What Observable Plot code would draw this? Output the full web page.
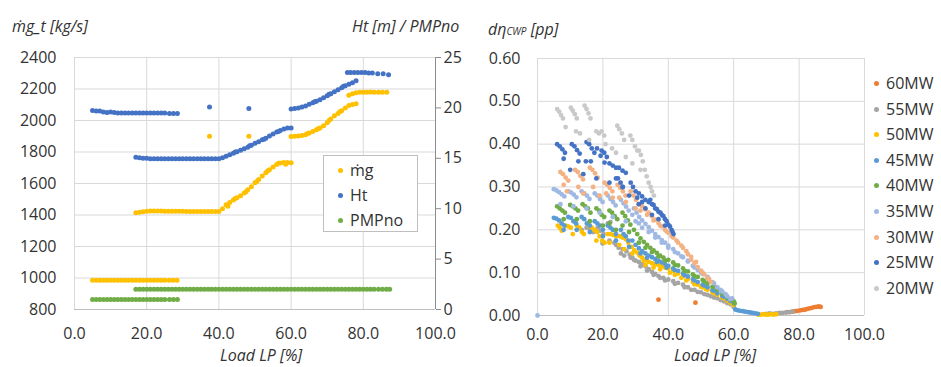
<!DOCTYPE html>
<html><head><meta charset="utf-8">
<script src="https://cdn.jsdelivr.net/npm/d3@7"></script>
<script src="https://cdn.jsdelivr.net/npm/@observablehq/plot@0.6"></script>
<style>
body{margin:0;background:#fff;font-family:"Open Sans",sans-serif;}
#wrap{position:relative;width:941px;height:367px;overflow:hidden;background:#fff;}
#wrap svg{position:absolute;top:0;}
.t{position:absolute;font-style:italic;font-size:16px;color:#333;white-space:nowrap;line-height:18px;}
.tx{position:absolute;font-style:italic;font-size:16px;color:#333;white-space:nowrap;line-height:17px;}
.lg{position:absolute;font-size:16px;color:#333;white-space:nowrap;line-height:20px;}
.mk{position:absolute;width:5px;height:5px;border-radius:50%;}
#lbox{position:absolute;left:323px;top:155px;width:93px;height:75px;border:1px solid #bfbfbf;background:#fff;}
[aria-label="y-axis tick"]{stroke:#8c8c8c;}
</style></head><body><div id="wrap"></div>
<script>
// ---------- tick values ----------
const loadTicks = [0, 20, 40, 60, 80, 100];
const mgTicks = [800, 1000, 1200, 1400, 1600, 1800, 2000, 2200, 2400];
const htTicks = [0, 5, 10, 15, 20, 25];
const etaTicks = [0, 0.1, 0.2, 0.3, 0.4, 0.5, 0.6];

// ---------- left chart: mass flow  [load %, kg/s] ----------
const mgFlow = [
 [5,986],[6,986],[7,985],[8,985],[9,985],[10,985],[11,985],[12,985],[13,985],[14,985],[15,985],[16,985],[17,985],[18,985],[19,985],[20,985],[21,985],[22,985],[23,985],[24,985],[25,985],[26.2,985],[27.3,985],[28.4,985],
 [17,1415],[18,1418],[19,1420],[20,1424],[21,1425],[22,1425],[23,1425],[24,1425],[25,1424],[26,1424],[27,1424],[28,1424],[29,1424],[30,1424],[31,1423],[32,1423],[33,1423],[34,1423],[35,1423],[36,1423],[37,1422],[38,1422],[39,1422],[40,1422],
 [41,1440],[42,1465],[43,1480],[44,1495],[45,1510],[46,1522],[47,1540],[48,1560],[49,1580],[50,1605],[51,1625],[52,1648],[53,1668],[54,1688],[55,1705],[56,1720],[57,1730],[58,1733],[59,1733],[60,1732],
 [42.5,1455],[44.5,1505],[47.5,1548],[50.5,1612],[53.5,1680],[56.5,1728],[58.5,1722],
 [37.4,1900],[48.3,1900],
 [60,1898],[61,1900],[62,1902],[63,1905],[64,1910],[65,1920],[66,1930],[67,1942],[68,1952],[69,1966],[70,1985],[71,2010],[72,2030],[73,2045],[74,2062],[75,2080],[76,2095],[77,2102],[78,2106],
 [64.5,1918],[67.5,1948],[70.5,2000],[73.5,2055],
 [76,2160],[77,2170],[78,2176],[79,2180],[80,2180],[81,2180],[82,2181],[83,2180],[84.2,2180],[85.3,2180],[86.5,2180]
];
// ---------- left chart: head  [load %, m] ----------
const headHt = [
 [5,19.75],[6,19.7],[7,19.7],[8,19.6],[9,19.55],[10,19.6],[11,19.55],[12,19.5],[13,19.5],[14,19.5],[15,19.5],[16,19.5],[17,19.5],[18,19.5],[19,19.5],[20,19.5],[21,19.5],[22,19.5],[23,19.5],[24,19.5],[25,19.5],[26.3,19.45],[27.4,19.45],[28.5,19.45],
 [37.4,20.1],[48.3,19.95],
 [17,15.1],[18,15.05],[19,15],[20,15],[21,14.95],[22,14.95],[23,14.95],[24,14.95],[25,14.95],[26,14.95],[27,14.95],[28,14.95],[29,14.95],[30,14.95],[31,14.95],[32,14.95],[33,14.95],[34,14.95],[35,14.95],[36,14.95],[37,14.95],[38,14.95],[39,14.95],[40,14.95],
 [41,15.05],[42,15.2],[43,15.35],[44,15.5],[45,15.65],[46,15.8],[47,15.95],[48,16.1],[49,16.3],[50,16.5],[51,16.65],[52,16.85],[53,17],[54,17.2],[55,17.4],[56,17.6],[57,17.75],[58,17.9],[59,18],[60,18],
 [44.5,15.62],[48.5,16.25],[52.5,16.9],[56.5,17.65],
 [60,19.9],[61,19.95],[62,20],[63,20.1],[64,20.2],[65,20.35],[66,20.5],[67,20.65],[68,20.8],[69,21],[70,21.2],[71,21.4],[72,21.6],[73,21.8],[74,22],[75,22.2],[76,22.35],[77,22.5],[78,22.7],
 [66.5,20.6],[70.5,21.35],[74.5,22.15],
 [75.6,23.5],[76.5,23.5],[77.5,23.5],[78.5,23.5],[79.5,23.5],[80.5,23.5],[81.5,23.45],[82.5,23.45],[84,23.4],[85.5,23.4],[87,23.3]
];
// ---------- left chart: number of pumps  [load %, no] ----------
const pmpNo = [
 [5,1],[6,1],[7,1],[8,1],[9,1],[10,1],[11,1],[12,1],[13,1],[14,1],[15,1],[16,1],[17,1],[18,1],[19,1],[20,1],[21,1],[22,1],[23,1],[24,1],[25,1],[26.3,1],[27.4,1],[28.5,1],
 [17,2],[18,2],[19,2],[20,2],[21,2],[22,2],[23,2],[24,2],[25,2],[26,2],[27,2],[28,2],[29,2],[30,2],[31,2],[32,2],[33,2],[34,2],[35,2],[36,2],[37,2],[38,2],[39,2],[40,2],
 [41,2],[42,2],[43,2],[44,2],[45,2],[46,2],[47,2],[48,2],[49,2],[50,2],[51,2],[52,2],[53,2],[54,2],[55,2],[56,2],[57,2],[58,2],[59,2],[60,2],
 [61,2],[62,2],[63,2],[64,2],[65,2],[66,2],[67,2],[68,2],[69,2],[70,2],[71,2],[72,2],[73,2],[74,2],[75,2],[76,2],[77,2],[78,2],[79,2],[80,2],[81,2],[82,2],[83,2],[84.2,2],[85.3,2],[86.4,2],[87.3,2]
];

// ---------- right chart: d eta CWP [load %, pp] per series ----------
const mwNames = ["60MW","55MW","50MW","45MW","40MW","35MW","30MW","25MW","20MW"];
const mwColors = ["#ED7D31","#A5A5A5","#FFC000","#5B9BD5","#70AD47","#A0B9E4","#F4B183","#4472C4","#C9C9C9"];

const mw60 = [[37,0.037],[48.3,0.03],[76.4,0.008],[77.2,0.008],[78,0.009],[78.8,0.01],[79.6,0.011],[80.4,0.012],[81.2,0.013],[82,0.014],[82.8,0.016],[83.6,0.017],[84.4,0.019],[85.2,0.02],[86,0.021],[86.6,0.02]];
const mw55 = [[13.5,0.2],[15,0.205],[15.7,0.206],[16.2,0.2],[17,0.195],[18.4,0.205],[19.2,0.198],[19.9,0.168],[20.2,0.19],[21.5,0.215],[22.3,0.218],[22,0.175],[23,0.2],[24,0.165],[24.8,0.158],[25.5,0.145],[26,0.155],[27.2,0.15],[28.2,0.142],[28.5,0.135],[29,0.135],[30,0.128],[31,0.125],[32,0.12],[33,0.115],[34,0.108],[35,0.102],[36,0.097],[37,0.092],[38.5,0.088],[40,0.084],[41.5,0.08],[43,0.076],[44.5,0.072],[46,0.066],[48,0.06],[50,0.054],[52,0.048],[54,0.042],[56,0.036],[58,0.029],[60,0.02],
 [31.5,0.115],[33.5,0.105],[35.5,0.095],[37.5,0.088],[39,0.082],[42,0.074],[45,0.066],[47,0.06],[49,0.055],[51,0.05],[53,0.045],[55,0.04],[57,0.033],[59,0.026],[23.5,0.17],[26.5,0.14],[29.5,0.13],
 [70,0.004],[71,0.005],[72,0.004],[73,0.005],[74,0.006],[75,0.006],[76,0.007],[77,0.008],[78,0.009]];
const mw50 = [[6.2,0.21],[6.8,0.205],[7.4,0.198],[8.6,0.21],[9.4,0.208],[10.2,0.205],[10.8,0.19],[12,0.21],[12.8,0.205],[13.6,0.195],[14.2,0.19],[15.8,0.21],[16.6,0.205],[17.4,0.2],[18.2,0.195],[19,0.185],[19.8,0.175],[20.5,0.17],[21.5,0.19],[22.3,0.19],[23.2,0.188],[24,0.185],[25.2,0.185],[26,0.182],[27,0.178],[27.8,0.17],[26.5,0.155],[28.8,0.16],[29.6,0.152],[30.5,0.147],[31.2,0.14],[32,0.135],[32.5,0.128],[33.2,0.13],[34,0.125],[35,0.122],[36,0.12],[37,0.118],[38,0.115],[39,0.112],[40,0.11],[41.5,0.104],[43,0.098],[44.5,0.092],[46,0.085],[47.5,0.078],[49,0.072],[50.5,0.066],[52,0.06],[53.5,0.054],[55,0.048],[56.5,0.042],[58,0.035],[59,0.03],[60,0.025],
 [33,0.118],[35.5,0.112],[37.5,0.108],[40.5,0.1],[42,0.095],[44,0.088],[45.5,0.082],[48,0.073],[50,0.067],[51.5,0.062],[54,0.052],[57,0.04],[59.5,0.028],[18,0.175],[22,0.17],[25,0.165],[29,0.145],
 [67.5,0.002],[68.3,0.002],[69,0.003],[69.8,0.002],[70.6,0.002],[71.4,0.003],[72.2,0.002],[73,0.003]];
const mw45 = [[5,0.228],[5.8,0.226],[6.6,0.222],[7.4,0.215],[8.2,0.21],[9.4,0.23],[10.2,0.228],[11,0.22],[11.8,0.215],[13.5,0.23],[14.3,0.225],[15.1,0.215],[16,0.21],[17.5,0.22],[18.3,0.215],[19.1,0.21],[20,0.2],[21.5,0.21],[22.3,0.205],[23.1,0.2],[24,0.19],[25.5,0.2],[26.3,0.19],[27,0.185],[27.8,0.175],[29,0.175],[30,0.165],[31,0.157],[32,0.15],[33,0.145],[34,0.14],[35,0.136],[36,0.132],[37,0.128],[38,0.124],[39,0.12],[40,0.116],[41.5,0.11],[43,0.104],[44.5,0.098],[46,0.091],[47.5,0.085],[49,0.078],[50.5,0.072],[52,0.066],[53.5,0.059],[55,0.052],[56.5,0.046],[58,0.039],[59,0.034],[60,0.029],
 [31.5,0.145],[33.5,0.135],[36.5,0.125],[39.5,0.112],[42,0.106],[45,0.094],[48,0.082],[51,0.07],[54,0.058],[57,0.044],[20,0.185],[24,0.175],[28,0.16],[12,0.2],[16,0.195],[8,0.2],
 [60.5,0.014],[61.3,0.012],[62,0.011],[62.8,0.01],[63.5,0.009],[64.3,0.008],[65,0.007],[65.8,0.006],[66.6,0.005],[67.4,0.004]];
const mw40 = [[6,0.255],[6.8,0.25],[7.6,0.245],[8.4,0.24],[8,0.225],[10,0.258],[10.8,0.255],[11.6,0.25],[12.4,0.245],[12,0.225],[13.8,0.26],[14.6,0.255],[15.4,0.25],[16.2,0.24],[16,0.22],[18,0.25],[18.8,0.245],[19.6,0.235],[20.4,0.23],[20,0.21],[22,0.245],[22.8,0.24],[23.6,0.232],[24.4,0.225],[24,0.2],[26,0.24],[26.8,0.232],[27.6,0.222],[28.4,0.212],[29.5,0.2],[30.5,0.19],[31.5,0.18],[32.5,0.172],[33.5,0.165],[34.5,0.158],[35.5,0.152],[36.5,0.146],[37.5,0.14],[38.5,0.135],[40,0.13],[41.5,0.124],[43,0.117],[44.5,0.11],[46,0.103],[47.5,0.096],[49,0.09],[50.5,0.083],[52,0.075],[53.5,0.067],[55,0.06],[56.5,0.052],[58,0.043],[59,0.038],[60,0.033],[60.3,0.028],
 [31,0.17],[33,0.158],[35,0.148],[37,0.138],[39,0.128],[42,0.118],[45,0.104],[48,0.092],[51,0.08],[54,0.068],[57,0.05],[59.5,0.036],[26,0.21],[28,0.195],[22,0.215]];
const mw35 = [[0,0],[5,0.295],[5.8,0.292],[6.6,0.288],[7.4,0.283],[8.2,0.278],[7,0.26],[9.5,0.29],[10.3,0.287],[11.1,0.282],[11.9,0.276],[11,0.255],[13.5,0.29],[14.3,0.285],[15.1,0.28],[15.9,0.272],[15,0.25],[17.5,0.285],[18.3,0.28],[19.1,0.272],[19.9,0.265],[19,0.24],[21.5,0.28],[22.3,0.272],[23.1,0.265],[23.9,0.257],[23,0.23],[25.5,0.27],[26.3,0.262],[27.1,0.254],[27.9,0.245],[27,0.22],[29.5,0.25],[30.3,0.24],[31.1,0.23],[32,0.222],[33,0.214],[34,0.206],[35,0.198],[36,0.19],[37,0.183],[38,0.176],[39,0.17],[40,0.163],[41.5,0.155],[43,0.145],[44.5,0.136],[46,0.126],[47.5,0.116],[49,0.106],[50.5,0.097],[52,0.088],[53.5,0.078],[55,0.066],[56.5,0.056],[58,0.045],[59,0.038],
 [30,0.22],[32,0.205],[34,0.195],[36,0.182],[38,0.17],[40,0.158],[42,0.148],[44,0.138],[46,0.128],[48,0.112],[50,0.1],[52,0.09],[54,0.075],[56,0.06],[57.5,0.05],[59.5,0.04],[29,0.235],[31,0.215]];
const mw30 = [[7,0.335],[7.8,0.33],[8.6,0.322],[9.4,0.315],[8,0.305],[9,0.29],[11.5,0.34],[12.3,0.335],[13.1,0.326],[13.9,0.318],[12.5,0.3],[14,0.285],[16,0.345],[16.8,0.34],[17.6,0.332],[18.4,0.322],[17,0.3],[19,0.28],[20.5,0.31],[21.3,0.305],[22.1,0.298],[22.9,0.29],[21,0.285],[24.5,0.305],[25.3,0.298],[26.1,0.29],[26.9,0.28],[25,0.275],[28.5,0.29],[29.3,0.28],[30.1,0.27],[30.9,0.26],[32,0.255],[33,0.248],[34,0.24],[35,0.232],[36,0.224],[37,0.216],[38,0.208],[39,0.2],[40,0.193],[41.5,0.182],[43,0.17],[44.5,0.158],[46,0.143],[47,0.13],[48,0.122],[49,0.113],[50,0.105],[51,0.096],[52,0.087],[53,0.078],
 [31.5,0.245],[33.5,0.235],[35.5,0.222],[37.5,0.21],[39.5,0.196],[41,0.185],[42.5,0.175],[44,0.163],[45.5,0.15],[47,0.137],[48.5,0.125],[50.5,0.1],[52.5,0.085],[30,0.25],[27,0.265],[23,0.275]];
const mw25 = [[6,0.4],[6.8,0.395],[7.6,0.388],[8.4,0.38],[8,0.366],[10.5,0.4],[11.3,0.395],[12.1,0.386],[12.9,0.378],[12.5,0.36],[10,0.34],[14.8,0.36],[15,0.405],[15.8,0.4],[16.6,0.39],[17.4,0.38],[16.3,0.36],[14,0.33],[18.2,0.39],[19.3,0.373],[19.6,0.385],[20.4,0.38],[21.2,0.37],[20.5,0.357],[22,0.355],[23,0.35],[24,0.345],[18,0.32],[22,0.31],[24.9,0.345],[26,0.338],[27,0.333],[24.6,0.32],[25.4,0.31],[26.1,0.3],[24,0.32],[26,0.3],[28.5,0.31],[29.2,0.3],[30,0.29],[31,0.285],[32,0.278],[33,0.27],[28,0.28],[31,0.26],[34,0.265],[35,0.26],[36,0.25],[37,0.242],[37.6,0.24],[38,0.235],[39,0.225],[40,0.212],[41,0.2],[41.6,0.19],
 [34.5,0.27],[35.5,0.258],[36.5,0.248],[38.5,0.232],[39.5,0.22],[40.5,0.208],[41.3,0.195],[33,0.25],[35,0.235],[37,0.225],[39,0.21],[30.5,0.275],[32,0.265]];
const mw20 = [[6,0.482],[6.6,0.476],[7.2,0.468],[7.8,0.46],[8.6,0.44],[10.2,0.485],[10.8,0.478],[11.4,0.47],[12,0.46],[11.8,0.43],[13,0.425],[14.4,0.49],[15,0.482],[15.6,0.472],[16.2,0.46],[15.8,0.41],[18,0.43],[18.8,0.425],[19.6,0.43],[20.4,0.42],[20.8,0.4],[22.8,0.39],[24,0.38],[24.4,0.443],[25,0.435],[25.8,0.425],[26.5,0.41],[27,0.37],[28.4,0.42],[29,0.41],[29.8,0.395],[30.5,0.385],[29,0.355],[31,0.385],[31.6,0.375],[32.2,0.36],[31.5,0.34],[32.8,0.34],[33.4,0.325],[34,0.31],[34.6,0.3],[35,0.29],[35.6,0.28]];
const mwSeries = [mw60, mw55, mw50, mw45, mw40, mw35, mw30, mw25, mw20];

// ---------- build ----------
const wrap = document.getElementById("wrap");
const font = {fontFamily: "'Open Sans', sans-serif", fontSize: "16px", color: "#333", background: "transparent", overflow: "visible"};
const grid = "#d9d9d9";
const toObj = arr => arr.map(([x, y]) => ({x, y}));

const leftA = Plot.plot({
  width: 470, height: 367, marginLeft: 74, marginRight: 35, marginTop: 57, marginBottom: 58,
  style: font,
  x: {domain: [0, 100], ticks: loadTicks, tickFormat: d => d.toFixed(1), tickSize: 0, tickPadding: 18, label: null},
  y: {domain: [800, 2400], ticks: mgTicks, tickFormat: d => String(d), tickSize: 0, tickPadding: 18, label: null},
  marks: [
    Plot.ruleX(loadTicks.slice(0, 5), {stroke: grid}),
    Plot.ruleY(mgTicks.slice(1), {stroke: grid}),
    Plot.ruleY([800], {stroke: "#bfbfbf"}),
    Plot.dot(toObj(mgFlow), {x: "x", y: "y", fill: "#FFC000", r: 2.5})
  ]
});
leftA.style.left = "0px";
wrap.appendChild(leftA);

const leftB = Plot.plot({
  width: 470, height: 367, marginLeft: 74, marginRight: 35, marginTop: 57, marginBottom: 58,
  style: font,
  x: {domain: [0, 100], axis: null},
  y: {domain: [0, 25], ticks: htTicks, tickFormat: d => String(d), axis: "right", tickSize: 5, tickPadding: 3, label: null},
  marks: [
    Plot.ruleX([100], {stroke: "#8c8c8c"}),
    Plot.dot(toObj(pmpNo), {x: "x", y: "y", fill: "#70AD47", r: 2.5}),
    Plot.dot(toObj(headHt), {x: "x", y: "y", fill: "#4472C4", r: 2.5})
  ]
});
leftB.style.left = "0px";
wrap.appendChild(leftB);

const etaData = mwNames.flatMap((n, i) => mwSeries[i].map(([x, y]) => ({x, y, s: n})));
const right = Plot.plot({
  width: 471, height: 367, marginLeft: 67, marginRight: 77, marginTop: 58, marginBottom: 52,
  style: font,
  x: {domain: [0, 100], ticks: loadTicks, tickFormat: d => d.toFixed(1), tickSize: 0, tickPadding: 13, label: null},
  y: {domain: [0, 0.6], ticks: etaTicks, tickFormat: d => d.toFixed(2), tickSize: 0, tickPadding: 17, label: null},
  color: {domain: mwNames, range: mwColors},
  marks: [
    Plot.ruleX(loadTicks, {stroke: grid}),
    Plot.ruleY(etaTicks.slice(1), {stroke: grid}),
    Plot.ruleY([0], {stroke: "#bfbfbf"}),
    Plot.dot(etaData, {x: "x", y: "y", fill: "s", r: 2.4})
  ]
});
right.style.left = "470px";
wrap.appendChild(right);

// ---------- titles ----------
function addDiv(cls, html, left, top) {
  const d = document.createElement("div");
  d.className = cls; d.innerHTML = html;
  d.style.left = left + "px"; d.style.top = top + "px";
  wrap.appendChild(d); return d;
}
addDiv("t", "ṁg_t [kg/s]", 12, 17);
addDiv("t", "Ht [m] / PMPno", 352, 17);
addDiv("t", "dη<span style='font-size:10px'>CWP</span> [pp]", 488, 20);
const xl1 = addDiv("tx", "Load LP [%]", 0, 347); xl1.style.left = (261 - xl1.offsetWidth / 2) + "px";
const xl2 = addDiv("tx", "Load LP [%]", 0, 347); xl2.style.left = (715 - xl2.offsetWidth / 2) + "px";

// ---------- left legend ----------
const lbox = document.createElement("div"); lbox.id = "lbox"; wrap.appendChild(lbox);
const leftNames = ["ṁg", "Ht", "PMPno"];
const leftColors = ["#FFC000", "#4472C4", "#70AD47"];
leftNames.forEach((n, i) => {
  const cy = 170 + i * 25;
  const m = addDiv("mk", "", 338, cy - 2); m.style.background = leftColors[i];
  addDiv("lg", n, 350, cy - 10);
});
// ---------- right legend ----------
mwNames.forEach((n, i) => {
  const cy = 83 + i * 25.6;
  const m = addDiv("mk", "", 874, cy - 2); m.style.background = mwColors[i];
  addDiv("lg", n, 886, cy - 10);
});
</script></body></html>
